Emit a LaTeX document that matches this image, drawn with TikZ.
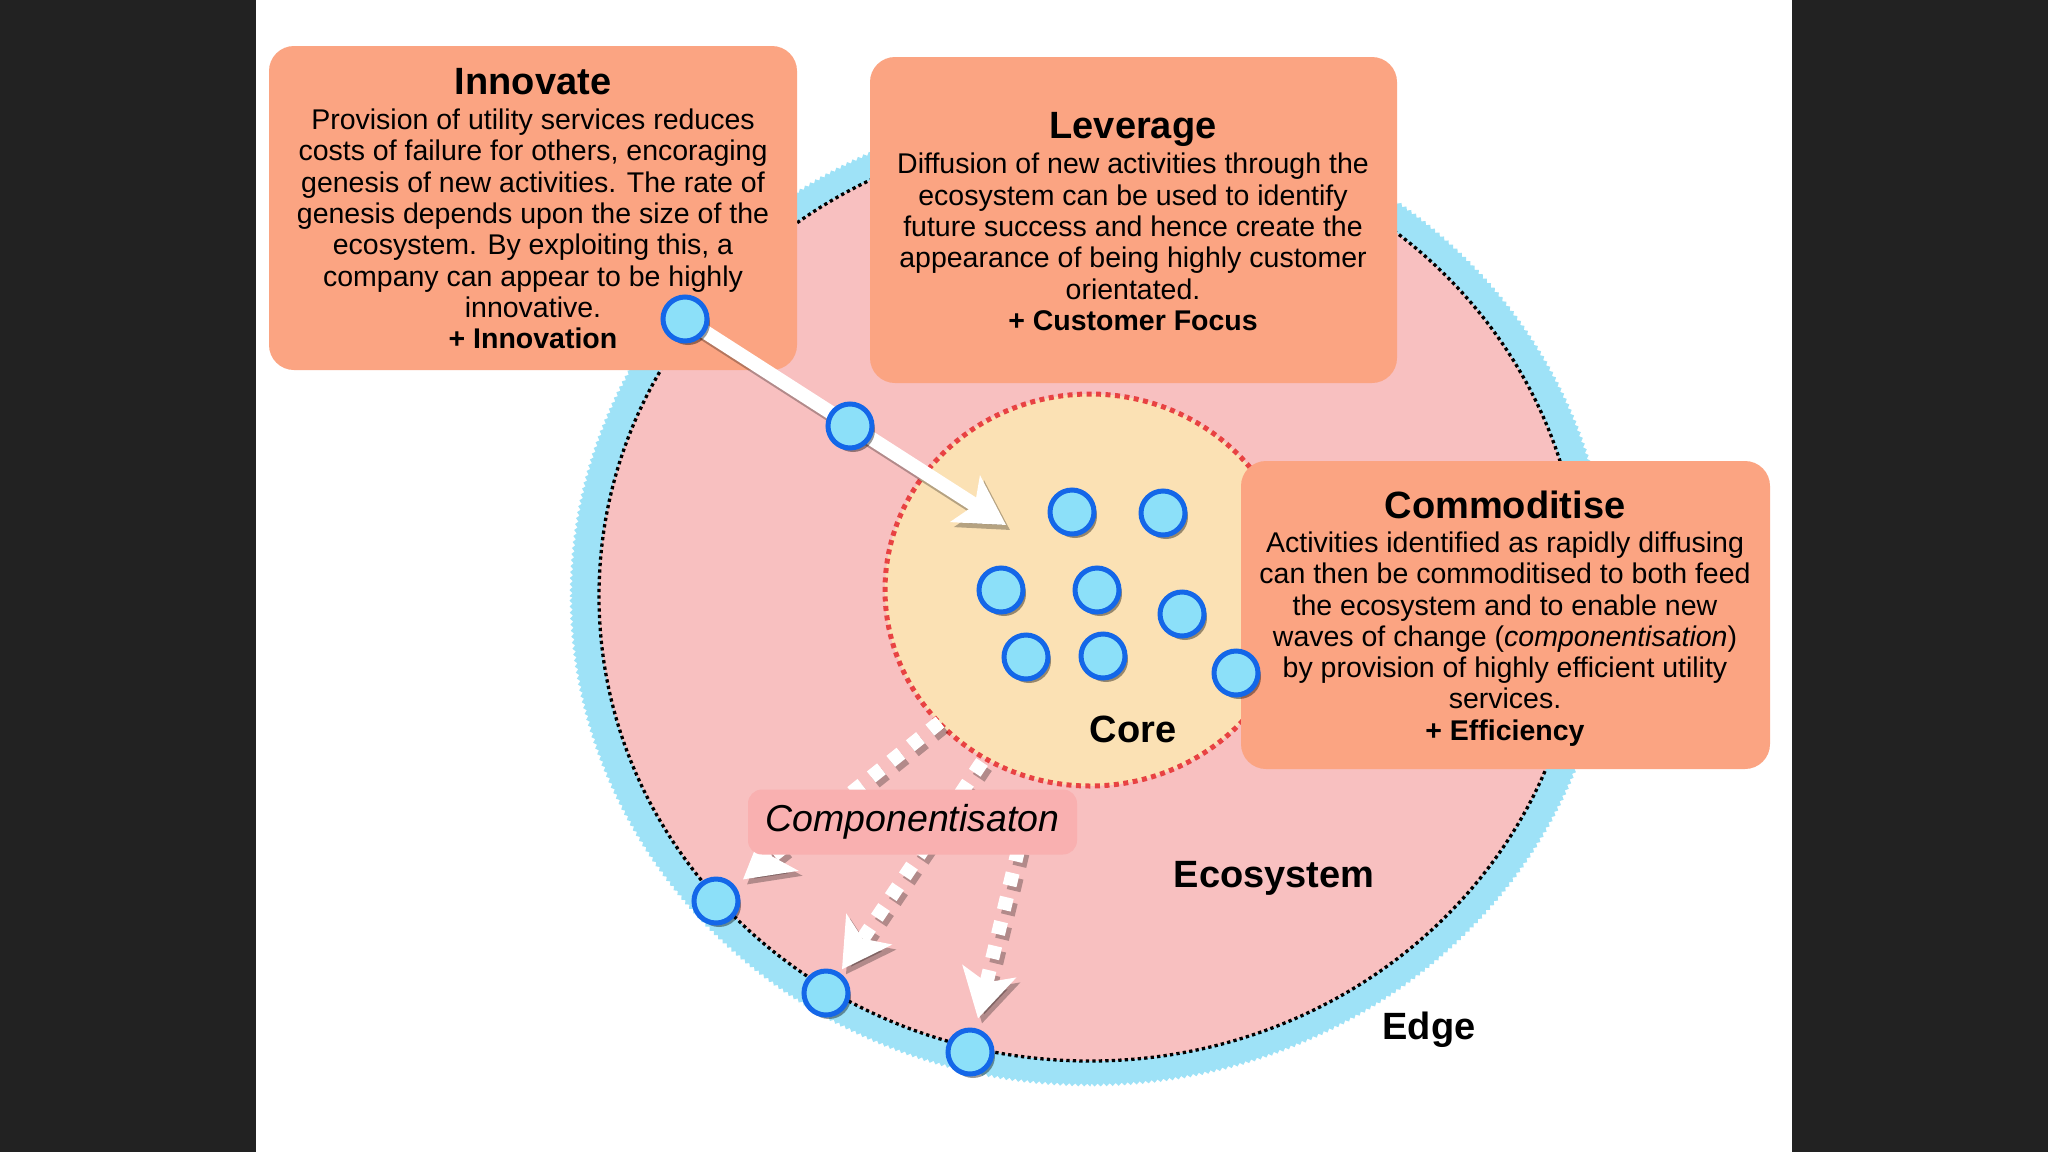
\documentclass[tikz,border=0pt]{standalone}
\usepackage{fontspec}
\setmainfont{Liberation Sans}
\usetikzlibrary{arrows.meta,shadows,decorations.pathmorphing}
\definecolor{darkbg}{RGB}{34,34,34}
\definecolor{edgeblue}{RGB}{158,226,247}
\definecolor{ecopink}{RGB}{248,192,192}
\definecolor{corebeige}{RGB}{251,225,180}
\definecolor{corered}{RGB}{232,66,66}
\definecolor{boxsalmon}{RGB}{251,164,130}
\definecolor{dotfill}{RGB}{140,224,249}
\definecolor{dotline}{RGB}{20,103,232}
\definecolor{labelpink}{RGB}{249,176,176}
\tikzset{
  infobox/.style={fill=boxsalmon, rounded corners=25pt, draw=none, inner sep=0pt},
  activity/.style={circle, fill=dotfill, draw=dotline, line width=5pt, minimum size=44pt, inner sep=0pt,
    drop shadow={shadow xshift=3pt, shadow yshift=-4pt, opacity=0.4, fill=black}},
  boxtitle/.style={font=\fontsize{38}{44}\selectfont\bfseries, anchor=base, inner sep=0pt},
  boxbody/.style={font=\fontsize{28.5}{31.3}\selectfont, align=center, inner sep=0pt},
  biglabel/.style={font=\fontsize{38}{44}\selectfont\bfseries, anchor=base, inner sep=0pt},
  whitearrow/.style={draw=white, line width=14pt, -{Stealth[length=48pt,width=54pt,inset=11pt]}},
  arrowshadow/.style={draw=black, opacity=0.28, line width=14pt, -{Stealth[length=48pt,width=54pt,inset=11pt]},
    transform canvas={xshift=4pt,yshift=-5pt}},
  squaredash/.style={dash pattern=on 13pt off 12pt},
}
\begin{document}
\begin{tikzpicture}[x=1pt,y=-1pt]
\useasboundingbox (0,0) rectangle (2048,1152);
% background
\fill[darkbg] (0,0) rectangle (2048,1152);
\fill[white] (256,0) rectangle (1792,1152);
% ecosystem
\fill[edgeblue, decorate, decoration={zigzag,segment length=6pt,amplitude=1.5pt}] (1090,596) ellipse [x radius=519pt, y radius=489pt];
\fill[ecopink] (1090,596) ellipse [x radius=491pt, y radius=465pt];
\draw[black, line width=3.3pt, dash pattern=on 3.3pt off 3.2pt] (1090,596) ellipse [x radius=491pt, y radius=465pt];
% core
\draw[fill=corebeige, draw=corered, line width=5pt, dash pattern=on 5pt off 4.5pt] (1090,590) ellipse [x radius=205pt, y radius=196pt];
% boxes
\node[infobox, minimum width=528pt, minimum height=324pt] (innovateBox) at (533,208) {};
\node[infobox, minimum width=527pt, minimum height=326pt] (leverageBox) at (1133.5,220) {};
\node[infobox, minimum width=529pt, minimum height=308pt] (commodBox) at (1505.5,615) {};
\node[boxtitle] (innovateTitle) at (533,94) {Innovate};
\node[boxbody] (innovateBody) at (533,229) {Provision of utility services reduces\\
costs of failure for others, encoraging\\
genesis of new activities. The rate of\\
genesis depends upon the size of the\\
ecosystem. By exploiting this, a\\
company can appear to be highly\\
innovative.\\
\textbf{+ Innovation}};
\node[boxtitle] (leverageTitle) at (1133,138) {Leverage};
\node[boxbody] (leverageBody) at (1133,242) {Diffusion of new activities through the\\
ecosystem can be used to identify\\
future success and hence create the\\
appearance of being highly customer\\
orientated.\\
\textbf{+ Customer Focus}};
\node[boxtitle] (commodTitle) at (1505,518) {Commoditise};
\node[boxbody] (commodBody) at (1505,639) {Activities identified as rapidly diffusing\\
can then be commoditised to both feed\\
the ecosystem and to enable new\\
waves of change (\textit{componentisation})\\
by provision of highly efficient utility\\
services.\\
\textbf{+ Efficiency}};
% positions
\coordinate (p1) at (685,319);
\coordinate (tipMain) at (1006,525);
\coordinate (startA) at (940,722);
\coordinate (startB) at (982,762);
\coordinate (startC) at (1030,800);
% arrows
\draw[arrowshadow] (p1) -- (tipMain);
\draw[whitearrow] (p1) -- (tipMain);
\node[activity] (e1) at (716,901) {};
\node[activity] (e2) at (826,993) {};
\node[activity] (e3) at (970,1052) {};
\draw[arrowshadow, squaredash, shorten >=10pt] (startA) -- (e1);
\draw[whitearrow, squaredash, shorten >=10pt] (startA) -- (e1);
\draw[arrowshadow, squaredash, shorten >=4pt] (startB) -- (e2);
\draw[whitearrow, squaredash, shorten >=4pt] (startB) -- (e2);
\draw[arrowshadow, squaredash, shorten >=10pt] (startC) -- (e3);
\draw[whitearrow, squaredash, shorten >=10pt] (startC) -- (e3);
% label
\node[fill=labelpink, rounded corners=14pt, minimum width=329pt, minimum height=65pt, inner sep=0pt,
  font=\fontsize{37.5}{44}\selectfont\itshape] (compLabel) at (912.5,822) {Componentisaton};
% dots
\node[activity] (d1) at (p1) {};
\node[activity] (d2) at (850,426) {};
\node[activity] (c1) at (1072,512) {};
\node[activity] (c2) at (1163,513) {};
\node[activity] (c3) at (1001,590) {};
\node[activity] (c4) at (1097,590) {};
\node[activity] (c5) at (1182,614) {};
\node[activity] (c6) at (1026,657) {};
\node[activity] (c7) at (1103,656) {};
\node[activity] (c8) at (1236,673) {};
% region labels
\node[biglabel] (coreLabel) at (1133,742) {Core};
\node[biglabel] (ecoLabel) at (1274,887) {Ecosystem};
\node[biglabel] (edgeLabel) at (1429,1039) {Edge};
\end{tikzpicture}
\end{document}
